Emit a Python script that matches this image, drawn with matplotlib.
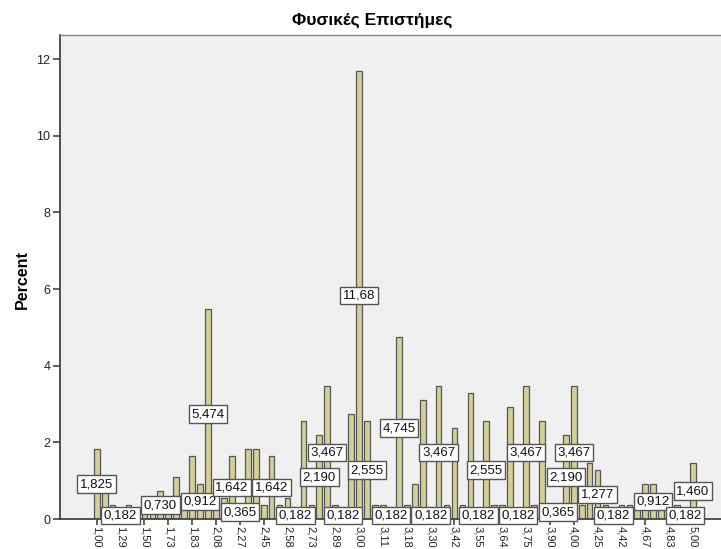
import matplotlib
matplotlib.use("Agg")
import matplotlib.pyplot as plt
import numpy as np

plt.rcParams['font.family'] = ['Liberation Sans', 'DejaVu Sans']

title = "Φυσικές Επιστήμες"
y_label = "Percent"

# percent of each category (76 categories, in order)
percent = [
    1.825, 0.730, 0.365, 0.182, 0.365, 0.182, 0.365, 0.547, 0.730, 0.365,
    1.095, 0.365, 1.642, 0.912, 5.474, 0.365, 0.547, 1.642, 0.365, 1.825,
    1.825, 0.365, 1.642, 0.365, 0.547, 0.182, 2.555, 0.365, 2.190, 3.467,
    0.365, 0.182, 2.737, 11.68, 2.555, 0.365, 0.365, 0.182, 4.745, 0.365,
    0.912, 3.102, 0.182, 3.467, 0.365, 2.372, 0.365, 3.285, 0.182, 2.555,
    0.365, 0.365, 2.920, 0.182, 3.467, 0.365, 2.555, 0.365, 0.365, 2.190,
    3.467, 0.365, 1.460, 1.277, 0.365, 0.182, 0.365, 0.365, 0.365, 0.912,
    0.912, 0.365, 0.365, 0.365, 0.182, 1.460,
]

# category labels shown on the axis (every third category)
tick_labels = ["1,00", "1,29", "1,50", "1,73", "1,83", "2,08", "2,27", "2,45",
               "2,58", "2,73", "2,89", "3,00", "3,11", "3,18", "3,30", "3,42",
               "3,55", "3,64", "3,75", "3,90", "4,00", "4,25", "4,42", "4,67",
               "4,83", "5,00"]

# categories whose data labels are displayed
labeled = [0, 3, 8, 13, 14, 17, 18, 22, 25, 28, 29, 31, 33, 34, 37, 38, 42,
           43, 48, 49, 53, 54, 58, 59, 60, 63, 65, 70, 74, 75]

W, H = 721, 549
fig = plt.figure(figsize=(W / 100, H / 100), dpi=100)
fig.patch.set_facecolor("white")
ax = fig.add_axes([60 / W, (H - 519) / H, 662 / W, 484 / H])
ax.set_facecolor("#f0f0f0")

x = np.arange(len(percent))
ax.bar(x, percent, width=0.72, color="#d4cf98", edgecolor="#555555",
       linewidth=0.9, zorder=2)

def fmt(v):
    s = f"{v:.3f}" if v < 10 else f"{v:.2f}"
    return s.replace(".", ",")

for i in labeled:
    v = percent[i]
    ax.text(i, v / 2, fmt(v), ha="center", va="center", fontsize=9.5,
            color="#111111", zorder=5,
            bbox=dict(boxstyle="square,pad=0.2", facecolor="white",
                      edgecolor="#555555", linewidth=1.0))

ax.set_xlim(-4.62, -4.62 + 662 / 7.95)
ax.set_ylim(0, 12.63)
ax.set_xticks(x[::3])
ax.set_xticklabels(tick_labels, rotation=270, fontsize=8, color="#222222")
ax.set_yticks(np.arange(0, 13, 2))
ax.set_yticklabels([str(v) for v in range(0, 13, 2)], fontsize=9,
                   color="#222222")
ax.tick_params(axis="x", direction="out", length=4, width=1.2,
               color="#444444", pad=1)
ax.tick_params(axis="y", direction="out", length=5, width=1.2,
               color="#444444", pad=2)
for s in ["left", "bottom"]:
    ax.spines[s].set_color("#444444")
    ax.spines[s].set_linewidth(1.3)
ax.spines["top"].set_color("#888888")
ax.spines["top"].set_linewidth(1.0)
ax.spines["right"].set_visible(False)

fig.text(22 / W, 1 - 280 / H, y_label, rotation=90, ha="center", va="center",
         fontsize=11.5, fontweight="bold")
fig.text(372 / W, 1 - 20 / H, title, ha="center", va="center",
         fontsize=12.5, fontweight="bold")

fig.savefig("out.png", dpi=100)
